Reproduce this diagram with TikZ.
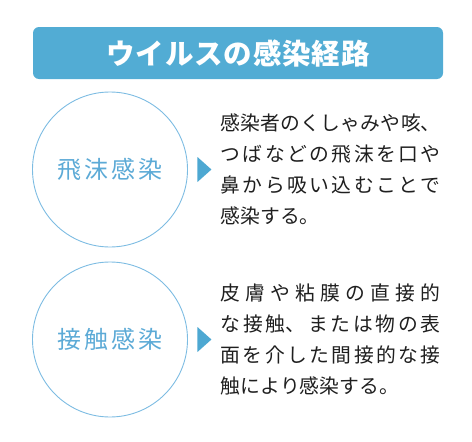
\documentclass[tikz,border=0pt]{standalone}
\usepackage{fontspec}
\usepackage{xcolor}
\usetikzlibrary{positioning,calc}
\newfontfamily\jpfont{Noto Sans CJK JP}
\newfontfamily\jpwide{Noto Sans CJK JP}[LetterSpace=12]
\newfontfamily\jphead{Noto Sans CJK JP}[LetterSpace=3]
\definecolor{ttlblue}{RGB}{82,172,212}
\definecolor{ringblue}{RGB}{125,188,226}
\definecolor{lblblue}{RGB}{92,170,214}
\definecolor{tipblue}{RGB}{77,168,210}
\newcommand{\jpbreaks}{\XeTeXlinebreaklocale "ja"\XeTeXlinebreakskip=0pt plus 8pt\tolerance=10000 }

\begin{document}
\begin{tikzpicture}[x=1pt,y=1pt,
  ttl/.style={fill=ttlblue,rounded corners=6pt,minimum width=410pt,minimum height=52pt,
    inner sep=0pt,text=white,font=\jphead\bfseries\fontsize{28.5}{28.5}\selectfont},
  route/.style={circle,draw=ringblue,line width=0.9pt,minimum size=155pt,inner sep=0pt,
    text=lblblue,font=\jpwide\fontsize{24}{24}\selectfont},
  note/.style={text width=220pt,align=justify,inner sep=0pt,text=black!88,
    font=\jpfont\fontsize{19.8}{31}\selectfont,execute at begin node=\jpbreaks}]
  \useasboundingbox (0,0) rectangle (472,-442);
  \node[ttl] (title) at (238,-53) {ウイルスの感染経路};
  % droplet route
  \node[route] (drop) at (110,-169.5) {飛沫感染};
  \coordinate (droptip) at ($(drop.east)+(23.5,0)$);
  \fill[tipblue] ($(drop.east)+(9.5,12.5)$) -- (droptip) -- ($(drop.east)+(9.5,-12.5)$) -- cycle;
  \node[note,right=9pt of droptip] (dropnote)
    {感染者のくしゃみや咳、\linebreak つばなどの飛沫を口や\linebreak 鼻から吸い込むことで\linebreak 感染する。};
  % contact route
  \node[route] (touch) at (110,-339.5) {接触感染};
  \coordinate (touchtip) at ($(touch.east)+(23.5,0)$);
  \fill[tipblue] ($(touch.east)+(9.5,12.5)$) -- (touchtip) -- ($(touch.east)+(9.5,-12.5)$) -- cycle;
  \node[note,right=9pt of touchtip] (touchnote)
    {皮膚や粘膜の直接的\linebreak な接触、または物の表\linebreak 面を介した間接的な接\linebreak 触により感染する。};
\end{tikzpicture}
\end{document}
